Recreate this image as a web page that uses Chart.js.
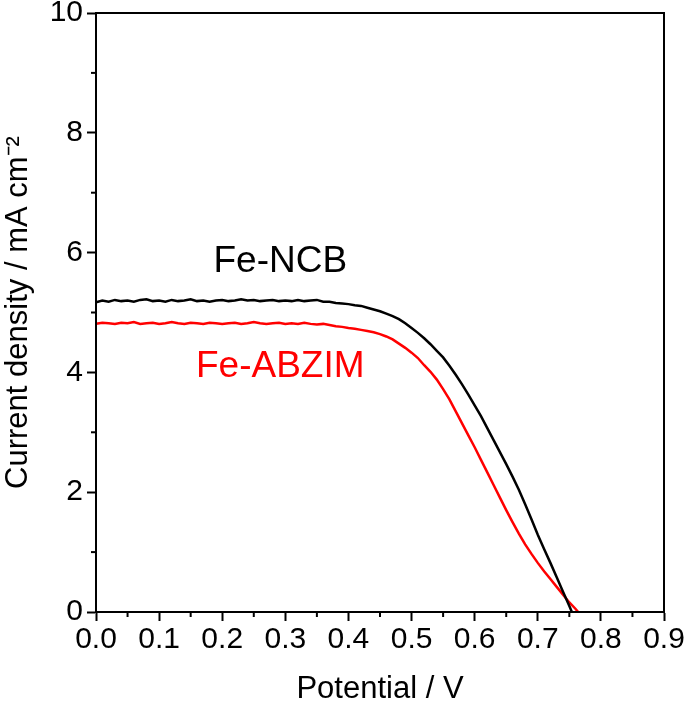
<!DOCTYPE html>
<html><head><meta charset="utf-8">
<script src="https://cdn.jsdelivr.net/npm/chart.js@4/dist/chart.umd.min.js"></script>
<style>html,body{margin:0;padding:0;background:#fff}#wrap{width:685px;height:708px}</style>
</head><body><div id="wrap"><canvas id="c" width="685" height="708"></canvas></div>
<script>
// Fe-NCB (black)
const potentialNCB = [0.00,0.01,0.02,0.03,0.04,0.05,0.06,0.07,0.08,0.09,0.10,0.11,0.12,0.13,0.14,0.15,0.16,0.17,0.18,0.19,0.20,0.21,0.22,0.23,0.24,0.25,0.26,0.27,0.28,0.29,0.30,0.31,0.32,0.33,0.34,0.35,0.36,0.37,0.38,0.39,0.40,0.41,0.42,0.43,0.44,0.45,0.46,0.47,0.48,0.49,0.50,0.51,0.52,0.53,0.54,0.55,0.56,0.57,0.58,0.59,0.60,0.61,0.62,0.63,0.64,0.65,0.66,0.67,0.68,0.69,0.70,0.71,0.72,0.73,0.74,0.75,0.754];
const currentNCB = [5.17,5.20,5.18,5.21,5.19,5.20,5.18,5.21,5.22,5.19,5.20,5.18,5.21,5.19,5.20,5.22,5.19,5.20,5.18,5.20,5.21,5.19,5.20,5.22,5.20,5.21,5.19,5.20,5.21,5.19,5.20,5.19,5.21,5.19,5.20,5.21,5.18,5.18,5.16,5.15,5.14,5.12,5.11,5.08,5.05,5.02,4.98,4.94,4.89,4.82,4.74,4.66,4.57,4.47,4.36,4.25,4.11,3.96,3.80,3.63,3.45,3.27,3.07,2.87,2.67,2.47,2.26,2.04,1.80,1.55,1.29,1.05,0.82,0.58,0.34,0.10,0.00];
// Fe-ABZIM (red)
const potentialABZIM = [0.00,0.01,0.02,0.03,0.04,0.05,0.06,0.07,0.08,0.09,0.10,0.11,0.12,0.13,0.14,0.15,0.16,0.17,0.18,0.19,0.20,0.21,0.22,0.23,0.24,0.25,0.26,0.27,0.28,0.29,0.30,0.31,0.32,0.33,0.34,0.35,0.36,0.37,0.38,0.39,0.40,0.41,0.42,0.43,0.44,0.45,0.46,0.47,0.48,0.49,0.50,0.51,0.52,0.53,0.54,0.55,0.56,0.57,0.58,0.59,0.60,0.61,0.62,0.63,0.64,0.65,0.66,0.67,0.68,0.69,0.70,0.71,0.72,0.73,0.74,0.75,0.76,0.764];
const currentABZIM = [4.81,4.83,4.82,4.81,4.83,4.82,4.84,4.81,4.82,4.83,4.81,4.82,4.84,4.82,4.81,4.83,4.82,4.81,4.83,4.82,4.81,4.82,4.83,4.81,4.82,4.84,4.82,4.81,4.82,4.83,4.81,4.82,4.81,4.83,4.81,4.80,4.81,4.79,4.77,4.76,4.74,4.73,4.71,4.69,4.67,4.64,4.60,4.55,4.48,4.41,4.33,4.24,4.12,4.01,3.88,3.72,3.55,3.35,3.15,2.95,2.75,2.54,2.33,2.12,1.91,1.70,1.50,1.31,1.13,0.97,0.82,0.68,0.55,0.42,0.29,0.16,0.05,0.00];
const seriesNames = ['Fe-NCB','Fe-ABZIM'];
const xMinorTicks = [0.05,0.15,0.25,0.35,0.45,0.55,0.65,0.75,0.85];
const yMinorTicks = [1,3,5,7,9];

const FONT = "'Liberation Sans', Arial, Helvetica, sans-serif";
const toPts = (xs, ys) => xs.map((x,i)=>({x, y: ys[i]}));

const framePlugin = {
  id: 'frame',
  afterDraw(chart){
    const {ctx, chartArea:a, scales:{x, y}} = chart;
    ctx.save();
    ctx.strokeStyle = '#000'; ctx.lineWidth = 2;
    ctx.strokeRect(a.left, a.top, a.right - a.left, a.bottom - a.top);
    xMinorTicks.forEach(v => { const p = x.getPixelForValue(v); ctx.beginPath(); ctx.moveTo(p, a.bottom); ctx.lineTo(p, a.bottom + 5); ctx.stroke(); });
    yMinorTicks.forEach(v => { const p = y.getPixelForValue(v); ctx.beginPath(); ctx.moveTo(a.left, p); ctx.lineTo(a.left - 5, p); ctx.stroke(); });
    ctx.font = '37px ' + FONT;
    ctx.textAlign = 'center'; ctx.textBaseline = 'middle';
    ctx.fillStyle = '#000';
    ctx.fillText(seriesNames[0], x.getPixelForValue(0.292), y.getPixelForValue(5.84));
    ctx.fillStyle = '#ff0000';
    ctx.fillText(seriesNames[1], x.getPixelForValue(0.292), y.getPixelForValue(4.10));
    ctx.restore();
  }
};

new Chart(document.getElementById('c'), {
  type: 'line',
  data: {
    datasets: [
      {label: seriesNames[0], data: toPts(potentialNCB, currentNCB), borderColor: '#000', borderWidth: 2.5, pointRadius: 0, tension: 0},
      {label: seriesNames[1], data: toPts(potentialABZIM, currentABZIM), borderColor: '#ff0000', borderWidth: 2.5, pointRadius: 0, tension: 0}
    ]
  },
  options: {
    responsive: false, animation: false, devicePixelRatio: 1,
    layout: {padding: {top: 13, right: 21, left: 0, bottom: 0}},
    plugins: {legend: {display: false}, tooltip: {enabled: false}},
    scales: {
      x: {
        type: 'linear', min: 0, max: 0.9,
        ticks: {stepSize: 0.1, color: '#000', font: {family: FONT, size: 30}, padding: 1, maxRotation: 0,
          callback: v => (Math.round(v*10)/10).toFixed(1)},
        grid: {drawOnChartArea: false, drawTicks: true, tickLength: 9, tickWidth: 2, tickColor: '#000'},
        border: {display: true, color: '#000', width: 2},
        title: {display: true, text: 'Potential / V', color: '#000', font: {family: FONT, size: 31}, padding: 0},
        afterFit: s => { s.height = 96; s.paddingRight = 0; s.paddingLeft = 0; }
      },
      y: {
        min: 0, max: 10,
        ticks: {stepSize: 2, color: '#000', font: {family: FONT, size: 30}, padding: 4},
        grid: {drawOnChartArea: false, drawTicks: true, tickLength: 9, tickWidth: 2, tickColor: '#000'},
        border: {display: true, color: '#000', width: 2},
        title: {display: true, text: 'Current density / mA cm⁻²', color: '#000', font: {family: FONT, size: 31}, padding: 0},
        afterFit: s => { s.width = 96; s.paddingTop = 0; s.paddingBottom = 0; }
      }
    }
  },
  plugins: [framePlugin]
});
</script></body></html>
